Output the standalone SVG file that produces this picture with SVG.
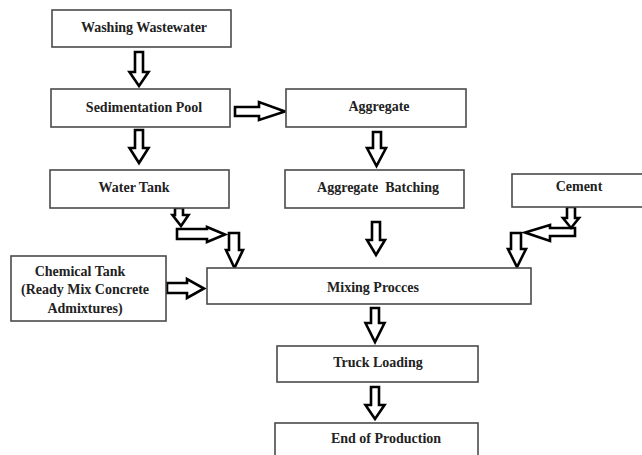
<svg xmlns="http://www.w3.org/2000/svg" width="642" height="455" viewBox="0 0 642 455">
<style>
.box{fill:#fff;stroke:#4a4a4a;stroke-width:1.6}
.t{font-family:'Liberation Serif','DejaVu Serif',serif;font-weight:bold;font-size:14px;fill:#222;text-anchor:middle}
.ar{fill:#fff;stroke:#000;stroke-width:2.6;stroke-linejoin:miter}
</style>
<rect width="642" height="455" fill="#fff"/>
<g id="connectors">
<polygon class="ar" points="135,52 143,52 143,72 148.5,72 139,86 129.5,72 135,72"/>
<polygon class="ar" points="135,130 143,130 143,148 148.5,148 139,163 129.5,148 135,148"/>
<polygon class="ar" points="235,107 259,107 259,102 285,111.5 259,120 259,116 235,116"/>
<polygon class="ar" points="373,132 381,132 381,148 386,148 376.5,166 367,148 373,148"/>
<polygon class="ar" points="372,222 380,222 380,240 385,240 376,255 367,240 372,240"/>
<polygon class="ar" points="371,308 379,308 379,323 384.5,323 375,342 365.5,323 371,323"/>
<polygon class="ar" points="371,387 379,387 379,405 384.5,405 375,419 365.5,405 371,405"/>
<polygon class="ar" points="167,283 187,283 187,279 204,288.5 187,298 187,293 167,293"/>
<polygon class="ar" points="177,229 207,229 207,227 225,234.5 207,242 207,239 177,239"/>
<polygon class="ar" points="175,208 183,208 183,215 188.5,215 181,226 172.5,215 175,215"/>
<polygon class="ar" points="229,233 239,233 239,250 243,250 234.5,268 226,250 229,250"/>
<polygon class="ar" points="575,228 550,228 550,225 525,232.5 550,241 550,236 575,236"/>
<polygon class="ar" points="567,207 575,207 575,218 579,218 571,228 563,218 567,218"/>
<polygon class="ar" points="511,233 521,233 521,249 526,249 517,267 508,249 511,249"/>
</g>
<g id="washing"><rect class="box" x="52" y="10" width="179" height="37"/><text class="t" x="144" y="32">Washing Wastewater</text></g>
<g id="sedimentation"><rect class="box" x="51" y="89" width="179" height="38"/><text class="t" x="144" y="112">Sedimentation Pool</text></g>
<g id="watertank"><rect class="box" x="50" y="170" width="179" height="38"/><text class="t" x="134" y="192">Water Tank</text></g>
<g id="aggregate"><rect class="box" x="286" y="89" width="180" height="38"/><text class="t" x="379" y="111">Aggregate</text></g>
<g id="batching"><rect class="box" x="285" y="170" width="179" height="38"/><text class="t" x="378" y="192" xml:space="preserve">Aggregate  Batching</text></g>
<g id="cement"><rect class="box" x="512" y="174" width="140" height="33"/><text class="t" x="579" y="191">Cement</text></g>
<g id="chemical"><rect class="box" x="11" y="256" width="155" height="65"/><text class="t" x="80" y="276">Chemical Tank</text><text class="t" x="85" y="294">(Ready Mix Concrete</text><text class="t" x="85" y="313">Admixtures)</text></g>
<g id="mixing"><rect class="box" x="207" y="268" width="324" height="36"/><text class="t" x="373" y="292">Mixing Procces</text></g>
<g id="truck"><rect class="box" x="277" y="346" width="201" height="36"/><text class="t" x="378" y="367">Truck Loading</text></g>
<g id="end"><rect class="box" x="275" y="423" width="203" height="45"/><text class="t" x="386" y="443">End of Production</text></g>
</svg>
